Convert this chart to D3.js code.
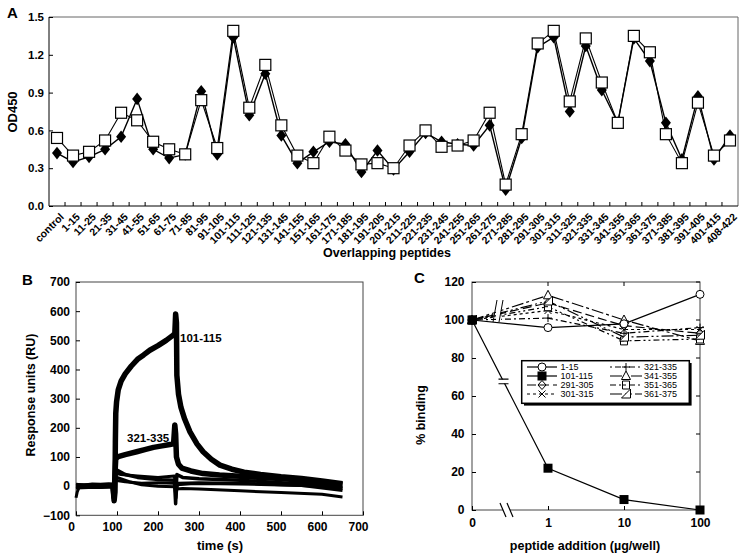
<!DOCTYPE html>
<html><head><meta charset="utf-8">
<script src="https://cdn.jsdelivr.net/npm/d3@7"></script>
<style>body{margin:0;background:#fff} text{font-family:"Liberation Sans",Arial,Helvetica,sans-serif;}</style>
</head><body><svg id="c" width="742" height="557" style="background:#fff"></svg>
<script>
// ---------------- DATA ----------------
// Panel A
const peptidesA = ["control","1-15","11-25","21-35","31-45","41-55","51-65","61-75","71-85","81-95","91-105","101-115","111-125","121-135","131-145","141-155","151-165","161-175","171-185","181-195","191-205","201-215","211-225","221-235","231-245","241-255","251-265","261-275","271-285","281-295","291-305","301-315","311-325","321-335","331-345","341-355","351-365","361-375","371-385","381-395","391-405","401-415","408-422"];
const odDiamond = [0.42,0.35,0.39,0.45,0.55,0.85,0.45,0.38,0.41,0.91,0.41,1.34,0.72,1.05,0.56,0.34,0.43,0.51,0.49,0.27,0.44,0.29,0.43,0.58,0.51,0.49,0.48,0.64,0.13,0.54,1.26,1.34,0.75,1.27,0.92,0.66,1.33,1.15,0.66,0.37,0.87,0.37,0.56];
const odSquare  = [0.54,0.40,0.43,0.52,0.74,0.68,0.51,0.45,0.41,0.84,0.46,1.39,0.78,1.12,0.64,0.40,0.34,0.55,0.44,0.33,0.34,0.30,0.48,0.60,0.47,0.48,0.52,0.74,0.17,0.57,1.29,1.39,0.83,1.33,0.98,0.66,1.35,1.22,0.57,0.34,0.82,0.40,0.52];
const yTicksA = [0,0.3,0.6,0.9,1.2,1.5];

// Panel B (time s, response RU)
const timeTicks = [0,100,200,300,400,500,600,700];
const ruTicks = [-100,0,100,200,300,400,500,600,700];
const sens101_115 = [[0,2],[20,0],[40,3],[60,2],[80,4],[90,3],[93,-50],[95,-20],[96,150],[97,250],[99,290],[103,330],[110,360],[120,385],[135,412],[150,435],[165,450],[180,466],[200,482],[220,500],[237,518],[241,522],[243,590],[245,560],[246,380],[250,315],[256,270],[265,230],[278,186],[295,145],[310,118],[330,92],[351,72],[380,58],[410,48],[450,40],[500,32],[550,26],[600,18],[650,8]];
const sens321_335 = [[0,-2],[30,0],[60,0],[90,2],[93,-40],[95,40],[97,95],[103,101],[120,108],[148,118],[170,126],[189,133],[210,138],[229,143],[238,145],[241,210],[243,180],[245,100],[250,75],[258,62],[280,52],[310,43],[350,38],[400,34],[450,30],[500,26],[550,20],[600,14],[650,5]];
const sensOther1 = [[0,0],[50,2],[90,0],[93,-40],[96,60],[100,55],[120,40],[150,30],[180,25],[210,22],[240,20],[243,-60],[246,40],[260,30],[300,25],[400,20],[500,12],[600,5],[650,-5]];
const sensOther2 = [[0,-40],[3,-20],[8,-3],[30,0],[90,0],[95,35],[100,30],[130,15],[160,5],[200,0],[240,-2],[245,-10],[260,-8],[300,-10],[400,-16],[500,-22],[600,-28],[650,-37]];
const sensOther3 = [[0,5],[90,3],[95,20],[120,15],[160,10],[200,12],[240,10],[244,-40],[247,5],[280,8],[350,8],[450,6],[550,2],[650,-15]];
const sensOther4 = [[0,-5],[90,-3],[95,45],[110,40],[150,35],[200,30],[240,35],[244,-20],[248,10],[300,12],[400,10],[500,5],[600,0],[650,-8]];

// Panel C
const doseLabels = ["0","1","10","100"];
const bindTicks = [0,20,40,60,80,100,120];
const pepC = ["1-15","101-115","291-305","301-315","321-335","341-355","351-365","361-375"];
const bind_1_15    = [100,96,98,113.5];
const bind_101_115 = [100,22,5.5,0];
const bind_291_305 = [100,109,97,93];
const bind_301_315 = [100,105,95,95];
const bind_321_335 = [100,101,93,96];
const bind_341_355 = [100,113,100,89];
const bind_351_365 = [100,107,89,90];
const bind_361_375 = [100,110,91,92];

// ---------------- DRAW ----------------
const svg = d3.select("#c");
const FONT = '"Liberation Sans",Arial,Helvetica,sans-serif';
function txt(g, s, x, y, size, opts={}) {
  const t = g.append("text").attr("x",x).attr("y",y).text(s)
    .attr("font-size",size).attr("font-weight",opts.weight||"bold")
    .attr("text-anchor",opts.anchor||"start").attr("fill","#000");
  if (opts.transform) t.attr("transform",opts.transform).attr("x",0).attr("y",0);
  return t;
}
function styleAxis(g, size){
  g.select(".domain").remove();
  g.selectAll("line").attr("stroke","#000");
  g.selectAll("text").attr("font-size",size).attr("font-weight","bold").attr("font-family",FONT).attr("fill","#000");
}

// ===== Panel A =====
const gA = svg.append("g");
const xA = d3.scaleBand().domain(peptidesA).range([49,738]);
const cxA = d => xA(d) + xA.bandwidth()/2;
const yA = d3.scaleLinear().domain([0,1.5]).range([206,17]);
gA.append("line").attr("x1",49).attr("x2",738).attr("y1",17).attr("y2",17).attr("stroke","#666");
gA.append("line").attr("x1",738).attr("x2",738).attr("y1",17).attr("y2",206).attr("stroke","#666");
gA.append("line").attr("x1",49).attr("x2",49).attr("y1",17).attr("y2",206).attr("stroke","#000");
gA.append("line").attr("x1",49).attr("x2",738).attr("y1",206).attr("y2",206).attr("stroke","#000");
const axAy = gA.append("g").attr("transform","translate(49,0)")
  .call(d3.axisLeft(yA).tickValues(yTicksA).tickFormat(d3.format(".1f")).tickSizeInner(-4).tickSizeOuter(0).tickPadding(5));
styleAxis(axAy, 11.5);
const axAx = gA.append("g").attr("transform","translate(0,206)")
  .call(d3.axisBottom(xA).tickSize(0));
axAx.select(".domain").remove();
axAx.selectAll("text").attr("font-size",10.5).attr("font-weight","bold").attr("font-family",FONT)
  .attr("text-anchor","end").attr("y",0).attr("dy","0.35em")
  .attr("transform","translate(5,9) rotate(-45)");
gA.append("g").selectAll("line").data(peptidesA.slice(1)).join("line")
  .attr("x1",d=>xA(d)).attr("x2",d=>xA(d)).attr("y1",206).attr("y2",202).attr("stroke","#000");
txt(gA,"Overlapping peptides",387,257,12.5,{anchor:"middle"});
txt(gA,"OD450",0,0,13,{anchor:"middle",transform:"translate(17,112) rotate(-90)"});
txt(gA,"A",7,18,15);
const lineA = vals => d3.line().x((v,i)=>cxA(peptidesA[i])).y(v=>yA(v))(vals);
gA.append("path").attr("d",lineA(odDiamond)).attr("fill","none").attr("stroke","#000").attr("stroke-width",1.4);
gA.append("path").attr("d",lineA(odSquare)).attr("fill","none").attr("stroke","#000").attr("stroke-width",1.1);
gA.append("g").selectAll("path").data(odDiamond).join("path")
  .attr("transform",(v,i)=>`translate(${cxA(peptidesA[i])},${yA(v)})`)
  .attr("d","M0,-6.3L5,0L0,6.3L-5,0Z").attr("fill","#000");
gA.append("g").selectAll("rect").data(odSquare).join("rect")
  .attr("x",(v,i)=>cxA(peptidesA[i])-5.5).attr("y",v=>yA(v)-5.5).attr("width",11).attr("height",11)
  .attr("fill","#fff").attr("stroke","#000").attr("stroke-width",1.2);

// ===== Panel B =====
const gB = svg.append("g");
const xB = d3.scaleLinear().domain([0,700]).range([76,363]);
const yB = d3.scaleLinear().domain([-100,700]).range([515.3,282]);
gB.append("rect").attr("x",76).attr("y",282).attr("width",287).attr("height",233.3).attr("fill","none").attr("stroke","#444");
const axBx = gB.append("g").attr("transform","translate(0,515.3)")
  .call(d3.axisBottom(xB).tickValues(timeTicks).tickSizeInner(-4).tickSizeOuter(0).tickPadding(7));
styleAxis(axBx, 12);
axBx.selectAll("text").attr("dx",-5);
const axBy = gB.append("g").attr("transform","translate(76,0)")
  .call(d3.axisLeft(yB).tickValues(ruTicks).tickSizeInner(-4).tickSizeOuter(0).tickPadding(6));
styleAxis(axBy, 12);
const lineB = d3.line().x(d=>xB(d[0])).y(d=>yB(d[1]));
[[sensOther2,3],[sensOther3,3],[sensOther4,3],[sensOther1,3.5],[sens321_335,5.5],[sens101_115,5.5]].forEach(([d,w])=>{
  gB.append("path").attr("d",lineB(d)).attr("fill","none").attr("stroke","#000").attr("stroke-width",w).attr("stroke-linejoin","round");
});
txt(gB,"101-115",180,342,11.5);
txt(gB,"321-335",127,442,11.5);
txt(gB,"time (s)",220,549.5,13,{anchor:"middle"});
txt(gB,"Response units (RU)",0,0,12.5,{anchor:"middle",transform:"translate(35,395) rotate(-90)"});
txt(gB,"B",22,285,15);

// ===== Panel C =====
const gC = svg.append("g");
const xC = d3.scaleLinear().domain([0,3]).range([472,700]);
const yC = d3.scaleLinear().domain([0,120]).range([510,282]);
gC.append("rect").attr("x",472).attr("y",282).attr("width",228).attr("height",228).attr("fill","none").attr("stroke","#444");
const axCx = gC.append("g").attr("transform","translate(0,510)")
  .call(d3.axisBottom(xC).tickValues([0,1,2,3]).tickFormat(i=>doseLabels[i]).tickSizeInner(-4).tickSizeOuter(0).tickPadding(8));
styleAxis(axCx, 12);
const axCy = gC.append("g").attr("transform","translate(472,0)")
  .call(d3.axisLeft(yC).tickValues(bindTicks).tickSizeInner(-4).tickSizeOuter(0).tickPadding(7.5));
styleAxis(axCy, 12);
gC.append("g").selectAll("line").data(bindTicks).join("line")
  .attr("x1",700).attr("x2",696).attr("y1",d=>yC(d)).attr("y2",d=>yC(d)).attr("stroke","#000");
gC.append("g").selectAll("line").data([1,2]).join("line")
  .attr("x1",d=>xC(d)).attr("x2",d=>xC(d)).attr("y1",282).attr("y2",286).attr("stroke","#000");

const seriesC = [
  {name:"291-305", v:bind_291_305, dash:"9,4", m:"diamond"},
  {name:"301-315", v:bind_301_315, dash:"3,3", m:"x"},
  {name:"321-335", v:bind_321_335, dash:"2,3,6,3", m:"plus"},
  {name:"341-355", v:bind_341_355, dash:"12,3,3,3", m:"tri"},
  {name:"351-365", v:bind_351_365, dash:"6,3,2,3,2,3", m:"sq2"},
  {name:"361-375", v:bind_361_375, dash:"12,3,2,3,2,3", m:"rtri"},
  {name:"1-15", v:bind_1_15, dash:null, m:"circle"},
  {name:"101-115", v:bind_101_115, dash:null, m:"fsq"}
];
function marker(g, type, x, y){
  const s = g.append("g").attr("transform",`translate(${x},${y})`);
  const st = el => el.attr("fill","#fff").attr("stroke","#000").attr("stroke-width",1);
  if (type==="circle") st(s.append("circle").attr("r",4));
  else if (type==="fsq") s.append("rect").attr("x",-4.5).attr("y",-4.5).attr("width",9).attr("height",9).attr("fill","#000");
  else if (type==="diamond"){ st(s.append("path").attr("d","M0,-4.5L4,0L0,4.5L-4,0Z")); s.append("line").attr("x1",-4).attr("x2",4).attr("stroke","#000"); }
  else if (type==="x"){ s.append("path").attr("d","M-3.5,-3.5L3.5,3.5M-3.5,3.5L3.5,-3.5").attr("stroke","#000"); }
  else if (type==="plus"){ s.append("path").attr("d","M-4,0L4,0M0,-4L0,4").attr("stroke","#000"); }
  else if (type==="tri") st(s.append("path").attr("d","M0,-5L4.5,3.5L-4.5,3.5Z"));
  else if (type==="sq2"){ st(s.append("path").attr("d","M-3.5,-4L3.5,-4L3.5,4L-3.5,4Z")); s.append("line").attr("x1",-3.5).attr("x2",0).attr("y1",0).attr("y2",0).attr("stroke","#000"); }
  else if (type==="rtri") st(s.append("path").attr("d","M-4.5,4L4.5,4L4.5,-5Z"));
}
const lineC = d3.line().x((v,i)=>xC(i)).y(v=>yC(v));
seriesC.forEach(s=>{
  const p = gC.append("path").attr("d",lineC(s.v)).attr("fill","none").attr("stroke","#000").attr("stroke-width",1.2);
  if (s.dash) p.attr("stroke-dasharray",s.dash);
});
seriesC.forEach(s=> s.v.forEach((v,i)=>marker(gC,s.m,xC(i),yC(v))));
// axis break marks
gC.append("rect").attr("x",503).attr("y",507).attr("width",7).attr("height",6).attr("fill","#fff");
gC.append("path").attr("d","M500,503L506,517M507,503L513,517").attr("stroke","#000").attr("stroke-width",1.2);
// break on 101-115 line
const bx = 503.5, by = yC(bind_101_115[0]) + (bx-xC(0))/(xC(1)-xC(0))*(yC(bind_101_115[1])-yC(bind_101_115[0]));
gC.append("rect").attr("x",bx-6).attr("y",by-2).attr("width",12).attr("height",4).attr("fill","#fff");
gC.append("path").attr("d",`M${bx-5},${by-2.3}L${bx+5},${by-2.3}M${bx-5},${by+2.3}L${bx+5},${by+2.3}`).attr("stroke","#000").attr("stroke-width",1.2);
// break on top lines
gC.append("rect").attr("x",496).attr("y",300).attr("width",5).attr("height",22).attr("fill","#fff");
gC.append("path").attr("d","M493,322L497,300M499,322L503,300").attr("stroke","#000").attr("stroke-width",1);

// legend
const lg = gC.append("g");
lg.append("rect").attr("x",524).attr("y",363).attr("width",167.6).attr("height",42.6).attr("fill","#000");
lg.append("rect").attr("x",521.7).attr("y",360.7).attr("width",167.6).attr("height",42.6).attr("fill","#fff").attr("stroke","#000").attr("stroke-width",1.5);
const legOrder = ["1-15","101-115","291-305","301-315","321-335","341-355","351-365","361-375"];
legOrder.forEach((n,k)=>{
  const s = seriesC.find(d=>d.name===n);
  const col = k<4?0:1, row = k%4;
  const y = 367 + row*9;
  const x0 = col===0?527:610, x1 = col===0?557:642, tx = col===0?560.5:644;
  const p = lg.append("line").attr("x1",x0).attr("x2",x1).attr("y1",y).attr("y2",y).attr("stroke","#000").attr("stroke-width",1.2);
  if (s.dash) p.attr("stroke-dasharray",s.dash);
  marker(lg,s.m,(x0+x1)/2,y);
  lg.append("text").attr("x",tx).attr("y",y).attr("dy","0.36em").attr("font-size",9).attr("font-family",FONT).text(n);
});
txt(gC,"peptide addition (\u00b5g/well)",585,549.5,12.5,{anchor:"middle"});
txt(gC,"% binding",0,0,12.5,{anchor:"middle",transform:"translate(425,415) rotate(-90)"});
txt(gC,"C",414,283,15);
</script></body></html>
